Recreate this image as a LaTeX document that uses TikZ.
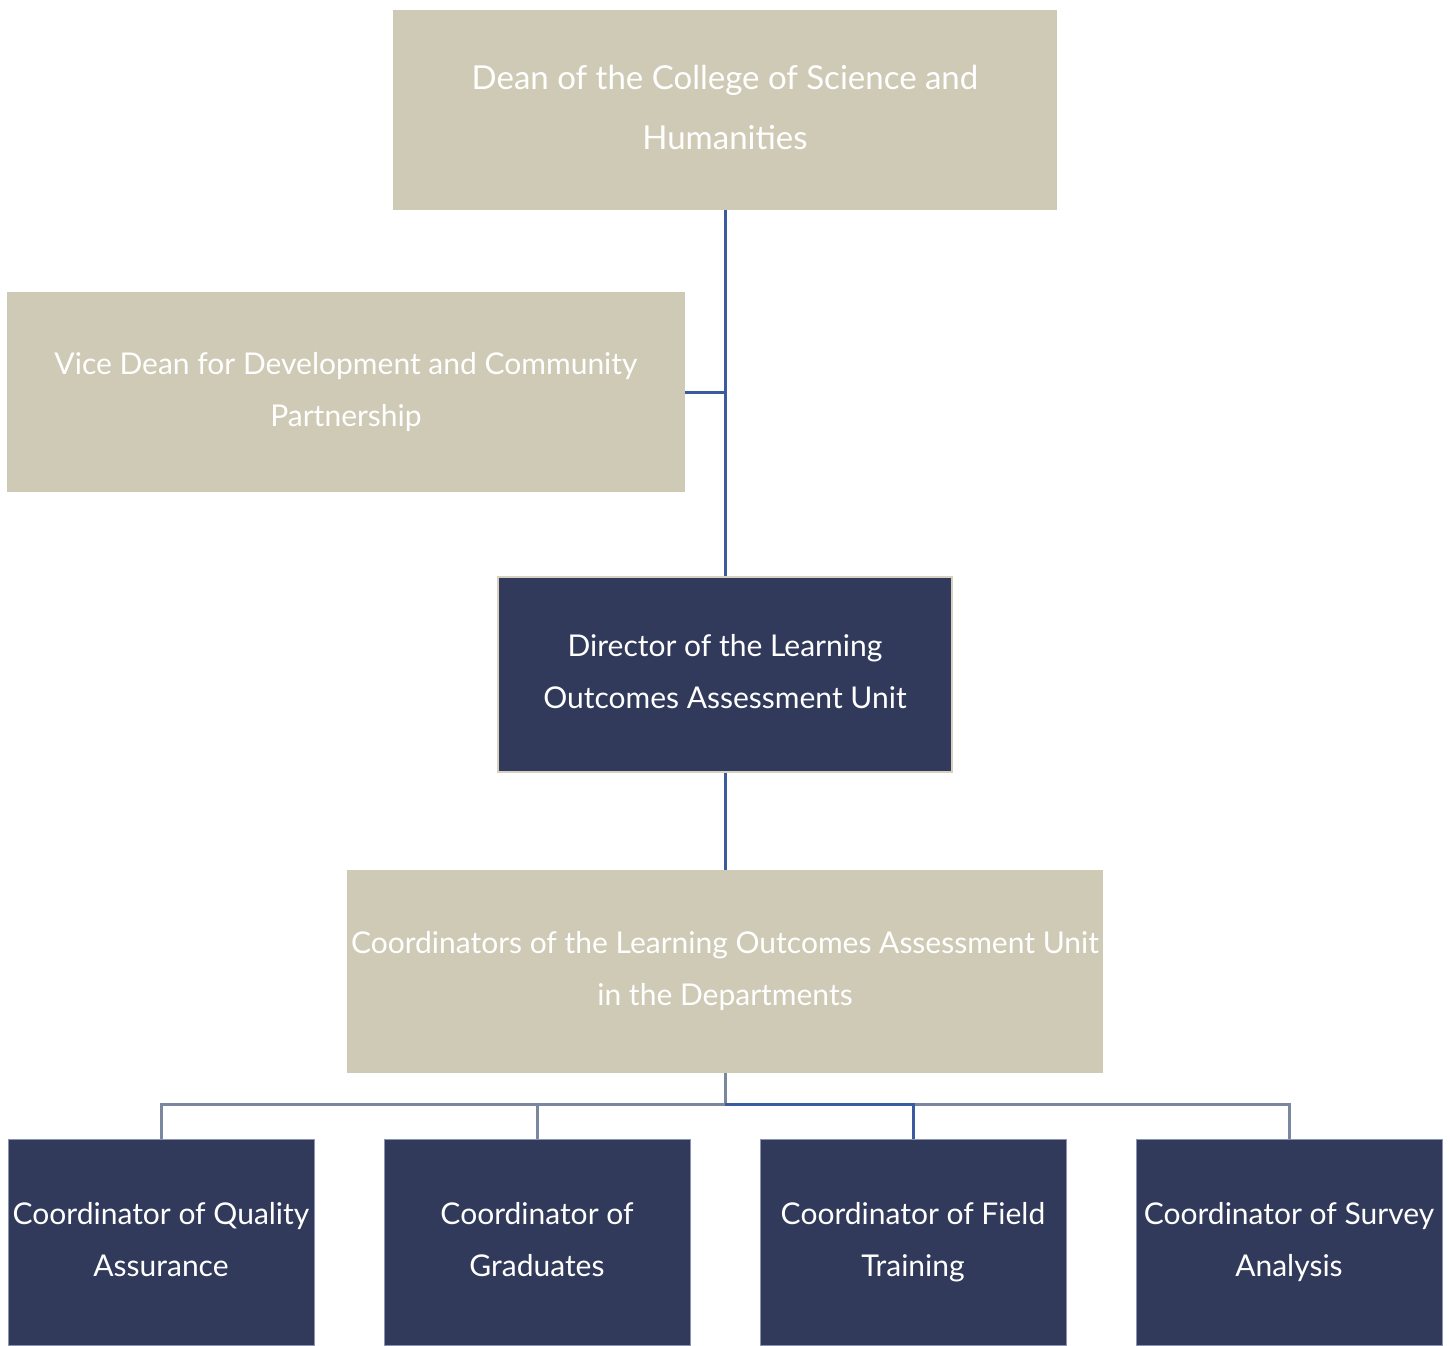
\documentclass[tikz,border=0pt]{standalone}
\usepackage{fontspec}
\setmainfont{Lato}
\definecolor{beige}{HTML}{CFCAB6}
\definecolor{navy}{HTML}{323A5B}
\definecolor{lineblue}{HTML}{3A5BA0}
\definecolor{linegray}{HTML}{7B879E}
\definecolor{dirborder}{HTML}{D6D1C0}
\definecolor{boxedge}{HTML}{8A94B0}
\newcommand{\ls}{\vphantom{Qfy}}
\begin{document}
\begin{tikzpicture}[x=1pt,y=-1pt,
  lightbox/.style={rectangle,fill=beige,draw=none,text=white,align=center,inner sep=0pt},
  darkbox/.style={rectangle,fill=navy,text=white,align=center,inner sep=0pt},
  bluelink/.style={draw=lineblue,line width=3pt},
  graylink/.style={draw=linegray,line width=3pt}]
\useasboundingbox (0,0) rectangle (1450,1345);
\fill[white] (0,0) rectangle (1450,1345);
\node[lightbox,minimum width=664pt,minimum height=200pt,font=\fontsize{33}{60}\selectfont] (dean) at (725,110) {\ls Dean of the College of Science and\\\ls Humanities\rule[-3pt]{0pt}{0pt}};
\node[lightbox,minimum width=678pt,minimum height=200pt,font=\fontsize{30}{52}\selectfont] (vice) at (346,392) {\ls Vice Dean for Development and Community\\\ls Partnership};
\node[darkbox,draw=dirborder,line width=2.5pt,minimum width=454pt,minimum height=195pt,font=\fontsize{30}{52}\selectfont] (dir) at (725,674.5) {\ls Director of the Learning\\\ls Outcomes Assessment Unit};
\node[lightbox,minimum width=756pt,minimum height=203pt,font=\fontsize{30}{52}\selectfont] (coord) at (725,971.5) {\ls Coordinators of the Learning Outcomes Assessment Unit\\\ls in the Departments};
\foreach \n/\x/\t in {qa/161/{\ls Coordinator of Quality\\\ls Assurance},grad/537/{\ls Coordinator of\\\ls Graduates},field/913/{\ls Coordinator of Field\\\ls Training},survey/1289/{\ls Coordinator of Survey\\\ls Analysis}}{
  \node[darkbox,draw=boxedge,line width=1pt,minimum width=306pt,minimum height=206pt,font=\fontsize{30}{52}\selectfont] (\n) at (\x,1242) {\t};
}
\coordinate (bus) at (725,1104);
\draw[bluelink] (dean.south) -- (dir.north);
\draw[bluelink] (vice.east) -- (vice.east -| dean.south);
\draw[bluelink] (dir.south) -- (coord.north);
\draw[graylink] (coord.south) -- (bus);
\draw[graylink] (qa.north) |- (bus);
\draw[graylink] (grad.north) -- (grad.north |- bus);
\draw[graylink] (survey.north) |- (bus);
\draw[bluelink] (bus) -| (field.north);
\end{tikzpicture}
\end{document}
